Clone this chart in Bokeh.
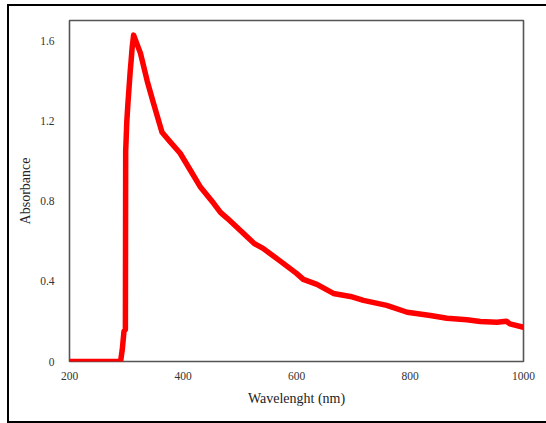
from bokeh.plotting import figure
from bokeh.models import FixedTicker
from bokeh.embed import file_html
from bokeh.resources import INLINE

# Absorbance spectrum
wavelength = [200, 250, 290, 293, 296, 298.5, 299, 301, 303, 305, 307, 308.5, 310.5, 313,
              325, 337, 348, 363, 378, 395, 413, 431, 454, 466, 478, 495, 525, 541, 572,
              600, 612, 636, 665, 695, 718, 759, 795, 836, 865, 900, 924, 953, 970,
              976, 1000]
absorbance = [0, 0, 0, 0.06, 0.15, 0.16, 1.05, 1.20, 1.29, 1.37, 1.45, 1.50, 1.57, 1.63,
              1.54, 1.40, 1.29, 1.145, 1.095, 1.04, 0.955, 0.87, 0.79, 0.745, 0.715, 0.67, 0.59, 0.565, 0.50,
              0.44, 0.41, 0.385, 0.34, 0.325, 0.305, 0.28, 0.246, 0.23, 0.216, 0.208, 0.20, 0.196, 0.201,
              0.188, 0.171]

x_ticks = [200, 400, 600, 800, 1000]
y_ticks = [0, 0.4, 0.8, 1.2, 1.6]
y_tick_labels = {0: "0", 0.4: "0.4", 0.8: "0.8", 1.2: "1.2", 1.6: "1.6"}

W, H = 546, 423
frame_css = """
:host { position: relative; overflow: hidden; }
:host::after {
  content: ""; position: absolute; left: 7px; top: 4px; width: 539px; height: 419px;
  border-left: 2.5px solid #000; border-top: 2.5px solid #000; border-bottom: 2.5px solid #000;
  border-right: 0; box-sizing: border-box; pointer-events: none;
}
"""
p = figure(width=W, height=H, output_backend="svg", toolbar_location=None,
           x_range=(200, 1000), y_range=(0, 1.703),
           min_border_left=69, min_border_right=23, min_border_top=20, min_border_bottom=62,
           stylesheets=[frame_css])

p.background_fill_color = "white"
p.border_fill_color = "white"
p.outline_line_color = "#555555"
p.outline_line_width = 1.6
p.grid.visible = False

font = "Liberation Serif"
for ax in (p.xaxis[0], p.yaxis[0]):
    ax.axis_line_color = None
    ax.major_tick_line_color = None
    ax.minor_tick_line_color = None
    ax.major_label_text_font = font
    ax.major_label_text_font_size = "11.5px"
    ax.major_label_text_color = "#333333"
    ax.axis_label_text_font = font
    ax.axis_label_text_font_size = "14px"
    ax.axis_label_text_font_style = "normal"
    ax.axis_label_text_color = "#222222"

p.xaxis.ticker = FixedTicker(ticks=x_ticks)
p.yaxis.ticker = FixedTicker(ticks=y_ticks)
p.yaxis.major_label_overrides = y_tick_labels
p.xaxis.axis_label = "Wavelenght (nm)"
p.yaxis.axis_label = "Absorbance"
p.xaxis.major_label_standoff = 4
p.yaxis.major_label_standoff = 9
p.xaxis.axis_label_standoff = 8
p.yaxis.axis_label_standoff = 4

p.line(wavelength, absorbance, line_color="#ff0000", line_width=5.5, line_join="round", line_cap="round")

open("out.html", "w").write(file_html(p, INLINE))
